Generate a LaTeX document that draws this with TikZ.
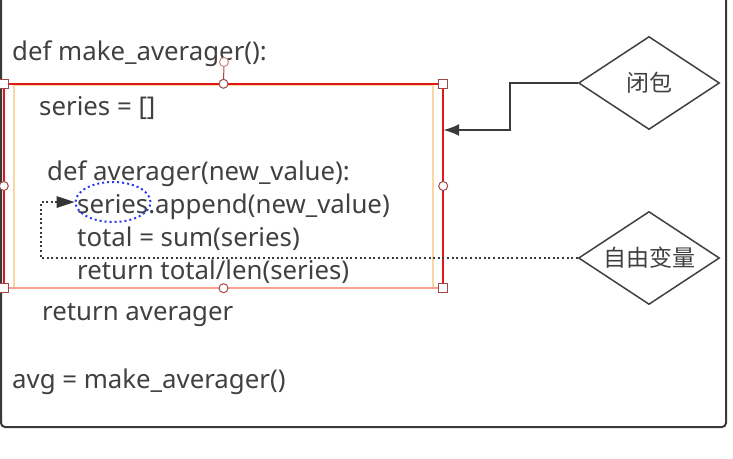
\documentclass[tikz,border=0pt]{standalone}
\usepackage{fontspec}
\setmainfont{Noto Sans}
\newfontfamily\cjk{Noto Sans CJK SC}
\usetikzlibrary{shapes.geometric,arrows.meta}
\definecolor{txt}{HTML}{404040}
\definecolor{outer}{HTML}{3A3A3A}
\definecolor{selred}{HTML}{E01818}
\definecolor{salmon}{HTML}{F8A090}
\definecolor{handle}{HTML}{A04848}
\definecolor{rothandle}{HTML}{C88888}
\definecolor{beige}{HTML}{F8D8A0}
\definecolor{dotblue}{HTML}{2838F0}
\begin{document}
\begin{tikzpicture}[x=1pt,y=-1pt,
  code/.style={anchor=base west, inner sep=0, text=txt, font=\fontsize{25.8}{30}\selectfont},
  sqh/.style={rectangle, draw=handle, fill=white, line width=1, minimum size=9, inner sep=0},
  circh/.style={circle, draw=handle, fill=white, line width=1, minimum size=9, inner sep=0},
  dia/.style={diamond, draw=txt, line width=1.5, aspect=1.5, inner sep=0, minimum width=141, minimum height=93, text=txt, font=\cjk\fontsize{23}{26}\selectfont},
  conn/.style={draw=outer, line width=2},
  dotconn/.style={draw=outer, line width=1.8, dash pattern=on 2 off 2.6}
]
\useasboundingbox (0,0) rectangle (733,458);
% outer frame
\draw[draw=outer, line width=2, rounded corners=4] (1,-10) -- (1,427) -- (726,427) -- (726,-10);
% code
\node[code] (l1) at (12,60) {def make\_averager():};
\node[code] (l2) at (39,115) {series = []};
\node[code] (l3) at (47,180) {def averager(new\_value):};
\node[code] (l4) at (77,213) {series.append(new\_value)};
\node[code] (l5) at (77,246) {total = sum(series)};
\node[code] (l6) at (77,279) {return total/len(series)};
\node[code] (l7) at (42,320) {return averager};
\node[code] (l8) at (12,388) {avg = make\_averager()};
% selection
\draw[draw=beige, line width=1.5] (14,85) rectangle (433,288);
\node[rectangle, draw=none, minimum width=439, minimum height=204, inner sep=0] (sel) at (223.5,186) {};
\draw[draw=selred, line width=2] (sel.south west) -- (sel.north west) -- (sel.north east) -- (sel.south east);
\draw[draw=salmon, line width=2] (sel.south west) -- (sel.south east);
\node[circh, draw=rothandle] (rot) at (224,62) {};
\draw[draw=handle, line width=1] (rot) -- (sel.north);
\node[sqh] (hnw) at (sel.north west) {};
\node[sqh] (hne) at (sel.north east) {};
\node[sqh] (hsw) at (sel.south west) {};
\node[sqh] (hse) at (sel.south east) {};
\node[circh] (hn) at (sel.north) {};
\node[circh] (hs) at (sel.south) {};
\node[circh] (hw) at (sel.west) {};
\node[circh] (he) at (sel.east) {};
% blue ellipse
\node[ellipse, draw=dotblue, line width=2, dash pattern=on 2 off 3, minimum width=75, minimum height=40, inner sep=0] (ell) at (113,202) {};
% diamonds
\node[dia] (bb) at (649,83) {闭包};
\node[dia] (zy) at (649,258) {自由变量};
% connectors
\coordinate (k1) at (510,130);
\draw[conn, -{Latex[length=16,width=12]}] (bb.west) -| (k1) -- (k1 -| sel.east);
\coordinate (k2) at (41,258);
\draw[dotconn] (zy.west) -- (k2) |- ([xshift=-16]ell.west);
\draw[draw=none, fill=outer!90!black] (ell.west) -- ++(-18,-6) -- ++(0,12) -- cycle;
\end{tikzpicture}
\end{document}
